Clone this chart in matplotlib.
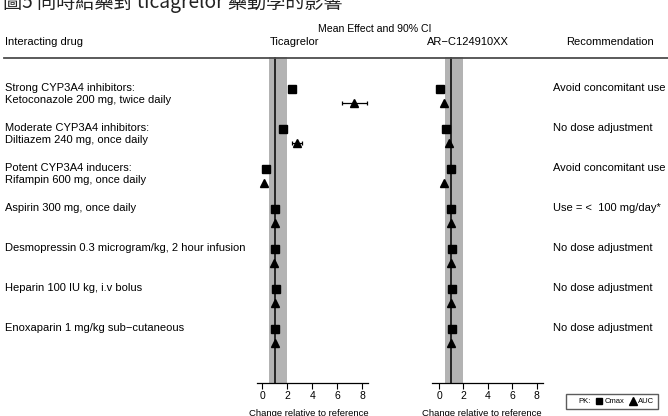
import matplotlib
matplotlib.use("Agg")
import matplotlib.pyplot as plt
from matplotlib.lines import Line2D
import matplotlib.transforms as mtransforms
import numpy as np

plt.rcParams['font.family'] = ['Liberation Sans', 'Noto Sans CJK TC', 'DejaVu Sans']

# ---------------- data ----------------
drugs = [
    "Strong CYP3A4 inhibitors:\nKetoconazole 200 mg, twice daily",
    "Moderate CYP3A4 inhibitors:\nDiltiazem 240 mg, once daily",
    "Potent CYP3A4 inducers:\nRifampin 600 mg, once daily",
    "Aspirin 300 mg, once daily",
    "Desmopressin 0.3 microgram/kg, 2 hour infusion",
    "Heparin 100 IU kg, i.v bolus",
    "Enoxaparin 1 mg/kg sub\u2212cutaneous",
]
recommendations = [
    "Avoid concomitant use",
    "No dose adjustment",
    "Avoid concomitant use",
    "Use = <  100 mg/day*",
    "No dose adjustment",
    "No dose adjustment",
    "No dose adjustment",
]
# Ticagrelor
tic_cmax = [2.35, 1.69, 0.27, 1.0, 1.05, 1.1, 1.05]
tic_cmax_lo = [2.2, 1.6, 0.24, 0.95, 1.0, 1.05, 1.0]
tic_cmax_hi = [2.5, 1.8, 0.30, 1.05, 1.1, 1.15, 1.1]
tic_auc = [7.32, 2.74, 0.14, 1.0, 0.95, 1.0, 1.03]
tic_auc_lo = [6.35, 2.4, 0.12, 0.95, 0.9, 0.95, 0.98]
tic_auc_hi = [8.35, 3.2, 0.16, 1.05, 1.0, 1.05, 1.08]
# AR-C124910XX
ar_cmax = [0.1, 0.55, 1.0, 1.0, 1.05, 1.05, 1.05]
ar_auc = [0.4, 0.85, 0.4, 0.95, 0.95, 0.95, 0.95]

xticks = [0, 2, 4, 6, 8]
ref_band = (0.5, 2.0)
ref_line = 1.0

W, H = 668, 416
fig = plt.figure(figsize=(W / 100, H / 100), dpi=100)

def fx(px):
    return px / W

def fy(py):
    return 1 - py / H

ax_bottom, ax_top = 383, 57
row0, row_step = 96, 40
ylim = ((ax_bottom - row0) / row_step, (ax_top - row0) / row_step)

ax1 = fig.add_axes([fx(256.7), fy(ax_bottom), fx(111.6), (ax_bottom - ax_top) / H])
ax2 = fig.add_axes([fx(431.7), fy(ax_bottom), fx(111.6), (ax_bottom - ax_top) / H])

rows = np.arange(len(drugs))
off = 0.175
fs = 8

def style(ax, xlim):
    ax.set_xlim(*xlim)
    ax.set_ylim(*ylim)
    for s in ['top', 'right', 'left']:
        ax.spines[s].set_visible(False)
    ax.spines['bottom'].set_linewidth(0.9)
    ax.set_yticks([])
    ax.set_xticks(xticks)
    ax.tick_params(axis='x', length=4, width=0.8, labelsize=7.5, pad=2)
    ax.axvspan(*ref_band, color='#b3b3b3', lw=0, zorder=0)
    ax.axvline(ref_line, color='black', lw=1.1, zorder=1)
    ax.set_facecolor('none')

style(ax1, (-0.45, 8.48))
style(ax2, (-0.6, 8.55))

ms_sq, ms_tri = 5.8, 6.3
tic_auc_err = [np.array(tic_auc) - np.array(tic_auc_lo), np.array(tic_auc_hi) - np.array(tic_auc)]
tic_cmax_err = [np.array(tic_cmax) - np.array(tic_cmax_lo), np.array(tic_cmax_hi) - np.array(tic_cmax)]
ax1.errorbar(tic_cmax, rows - off, xerr=tic_cmax_err, fmt='s', color='black', ms=ms_sq,
             elinewidth=0.9, capsize=1.5, capthick=0.9, zorder=3)
ax1.errorbar(tic_auc, rows + off, xerr=tic_auc_err, fmt='^', color='black', ms=ms_tri,
             elinewidth=0.9, capsize=1.5, capthick=0.9, zorder=3)
ax2.plot(ar_cmax, rows - off, 's', color='black', ms=ms_sq, zorder=3)
ax2.plot(ar_auc, rows + off, '^', color='black', ms=ms_tri, zorder=3)

# left labels and recommendations
tr = mtransforms.blended_transform_factory(fig.transFigure, ax1.transData)
for r, lab, rec in zip(rows, drugs, recommendations):
    lines = lab.split('\n')
    for k, ln in enumerate(lines):
        fig.text(fx(5), r - 0.2 + 0.3 * k, ln, transform=tr, fontsize=fs,
                 ha='left', va='center')
    fig.text(fx(553), r - 0.2, rec, transform=tr, fontsize=fs, ha='left', va='center')

# headers
fig.text(fx(5), fy(42), "Interacting drug", fontsize=fs, ha='left', va='center')
fig.text(fx(375), fy(29), "Mean Effect and 90% CI", fontsize=7.6, ha='center', va='center')
fig.text(fx(294), fy(42), "Ticagrelor", fontsize=fs, ha='center', va='center')
fig.text(fx(468), fy(42), "AR\u2212C124910XX", fontsize=fs, ha='center', va='center')
fig.text(fx(610), fy(42), "Recommendation", fontsize=fs, ha='center', va='center')
fig.add_artist(Line2D([fx(4), fx(668)], [fy(58), fy(58)], color='#4d4d4d', lw=1.3))

# x labels
fig.text(fx(309), fy(409), "Change relative to reference", fontsize=6.8, ha='center', va='top')
fig.text(fx(482), fy(409), "Change relative to reference", fontsize=6.8, ha='center', va='top')

# title
fig.text(fx(3), fy(8), "圖5 同時給藥對 ticagrelor 藥動學的影響", fontsize=13.8,
         family=['Noto Sans CJK TC', 'DejaVu Sans'], ha='left', va='baseline', color='#222222')

# legend
handles = [Line2D([], [], linestyle='none', marker=None),
           Line2D([], [], linestyle='none', marker='s', color='black', ms=5),
           Line2D([], [], linestyle='none', marker='^', color='black', ms=5.5)]
leg = fig.legend(handles, ['PK:', 'Cmax', 'AUC'], ncol=3, fontsize=5.5,
                 loc='center', bbox_to_anchor=(fx(612), fy(401.5)),
                 frameon=True, fancybox=False, edgecolor='#333333',
                 handlelength=0.9, handletextpad=0.3, columnspacing=0.6,
                 borderpad=0.45, borderaxespad=0)
leg.get_frame().set_linewidth(1.0)

fig.savefig("out.png", dpi=100)
